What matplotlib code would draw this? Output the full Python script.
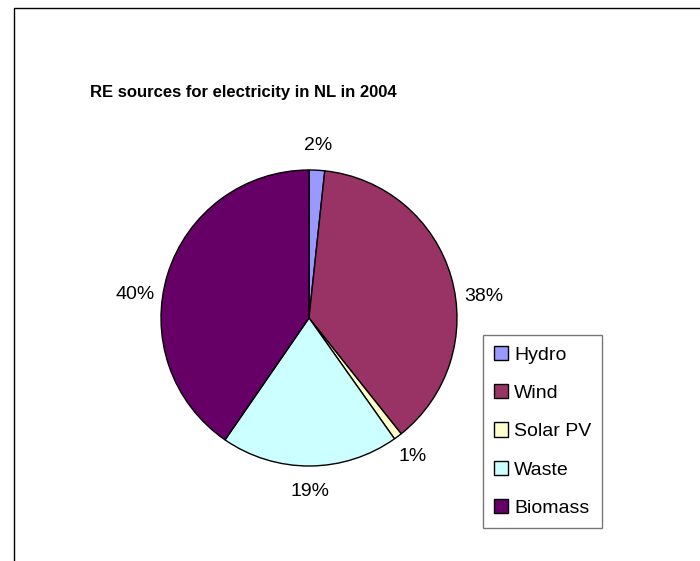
import matplotlib
matplotlib.use("Agg")
import matplotlib.pyplot as plt
from matplotlib.patches import Rectangle

plt.rcParams['font.family'] = ['Liberation Sans', 'DejaVu Sans']

# data (share of renewable electricity, %)
sources = ['Hydro', 'Wind', 'Solar PV', 'Waste', 'Biomass']
shares = [1.7, 37.6, 0.9, 19.4, 40.4]
colors = ['#9999FF', '#993366', '#FFFFCC', '#CCFFFF', '#660066']
title = 'RE sources for electricity in NL in 2004'

W, H = 700, 561
fig = plt.figure(figsize=(W / 100, H / 100), dpi=100)

# chart-area frame (runs off the right/bottom edge like the reference)
fig.patches.append(Rectangle((14 / W, -0.1), 1.2, 1 - 8 / H + 0.1,
                             transform=fig.transFigure, fill=False,
                             edgecolor='#000000', linewidth=1.0))

# pie centred at (309, 318) px with radius 148 px
half = 200
ax = fig.add_axes([(309 - half) / W, (H - 318 - half) / H, 2 * half / W, 2 * half / H])

wedges, texts, autotexts = ax.pie(shares, colors=colors, startangle=90, counterclock=False,
                                  radius=1.0, autopct='%1.0f%%', pctdistance=1.17,
                                  wedgeprops=dict(edgecolor='black', linewidth=1.0),
                                  textprops=dict(fontsize=14, color='black'))
lim = half / 148
ax.set_xlim(-lim, lim)
ax.set_ylim(-lim, lim)
ax.axis('off')
for w in wedges:
    w.set_clip_on(False)

# side labels sit a bit closer to horizontal in the reference
for t in autotexts:
    x, y = t.get_position()
    if abs(x) > abs(y):
        t.set_position((x * 1.05, y * 0.45))

fig.text(243 / W, 1 - 92 / H, title, ha='center', va='center',
         fontsize=12, fontweight='bold')

leg = fig.legend(wedges, sources, loc='upper left',
                 bbox_to_anchor=(483 / W, 1 - 335 / H), fontsize=14,
                 frameon=True, fancybox=False, edgecolor='#555555',
                 handlelength=0.75, handleheight=0.75, handletextpad=0.3,
                 labelspacing=1.05, borderpad=0.55, borderaxespad=0)
leg.get_frame().set_linewidth(1.0)

fig.savefig('out.png', dpi=100)
